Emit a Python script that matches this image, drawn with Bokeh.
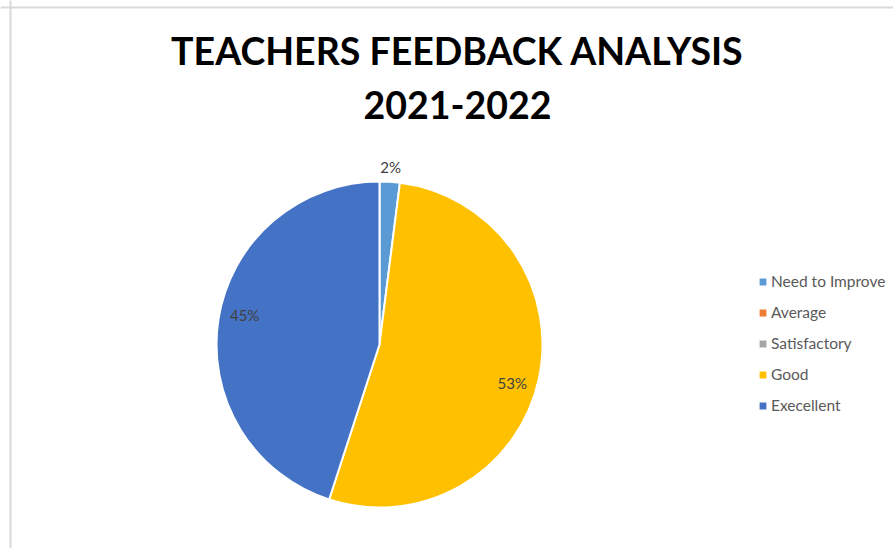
import math
from bokeh.plotting import figure
from bokeh.models import ColumnDataSource, Legend, LegendItem, Label, Span, Range1d
from bokeh.core.properties import value
from bokeh.embed import file_html
from bokeh.resources import INLINE

# ---- data ----
title_lines = ["TEACHERS FEEDBACK ANALYSIS", "2021-2022"]
categories = ["Need to Improve", "Average", "Satisfactory", "Good", "Execellent"]
counts = [2, 0, 0, 53, 45]
colors = ["#5B9BD5", "#ED7D31", "#A5A5A5", "#FFC000", "#4472C4"]

W, H = 893, 548
FONT = "Lato"

p = figure(width=W, height=H, output_backend="svg", toolbar_location=None,
           x_range=Range1d(0, W), y_range=Range1d(0, H), min_border=0)
p.axis.visible = False
p.grid.visible = False
p.outline_line_color = None
p.background_fill_color = "white"
p.border_fill_color = "white"

# chart-area border (left and top edges visible in reference)
p.add_layout(Span(location=10, dimension="height", line_color="#d9d9d9", line_width=2))
p.add_layout(Span(location=H - 7, dimension="width", line_color="#d9d9d9", line_width=2))

# pie geometry (1 data unit = 1 px)
cx, cy, R = 379, H - 344, 163

total = float(sum(counts))
starts, ends, fracs = [], [], []
cum = 0.0
for c in counts:
    f = c / total
    s = math.pi / 2 - cum * 2 * math.pi
    e = s - f * 2 * math.pi
    starts.append(s)
    ends.append(e)
    fracs.append(f)
    cum += f

items = []
for cat, s, e, f, col in zip(categories, starts, ends, fracs, colors):
    # zero-valued categories get a zero-size wedge so that only their legend entry shows
    src = ColumnDataSource(dict(x=[cx], y=[cy], start=[s], end=[e],
                                rad=[R if f > 0 else 0.0]))
    r = p.wedge(x="x", y="y", radius="rad", start_angle="start", end_angle="end",
                direction="clock", fill_color=col, line_color="white",
                line_width=2, source=src)
    items.append(LegendItem(label=cat, renderers=[r], index=0))

# data labels
lx, ly, lt = [], [], []
for s, e, f in zip(starts, ends, fracs):
    if f <= 0:
        continue
    mid = (s + e) / 2
    if f < 0.05:
        rr, ang = R * 1.094, mid
    else:
        rr, ang = R * 0.847, mid - math.radians(3.4)
    lx.append(cx + rr * math.cos(ang))
    ly.append(cy + rr * math.sin(ang))
    lt.append(f"{f:.0%}")
p.text(x=lx, y=ly, text=lt, text_align="center", text_baseline="middle",
       text_font=value(FONT), text_font_size="15px", text_color="#404040")

# title
for i, line in enumerate(title_lines):
    p.add_layout(Label(x=457, y=H - 50 - i * 54, x_units="screen", y_units="screen",
                       text=line, text_align="center", text_baseline="middle",
                       text_font=FONT, text_font_style="bold",
                       text_font_size="37.5px", text_color="#000000"))

# legend
legend = Legend(items=items, location=(757, 548 - 415), orientation="vertical",
                label_text_font=FONT, label_text_font_size="15.5px",
                label_text_color="#595959", glyph_width=11, glyph_height=11,
                label_height=20, spacing=11, padding=0, margin=0,
                label_standoff=3, border_line_color=None,
                background_fill_alpha=0)
p.add_layout(legend)

open("out.html", "w").write(file_html(p, INLINE))
